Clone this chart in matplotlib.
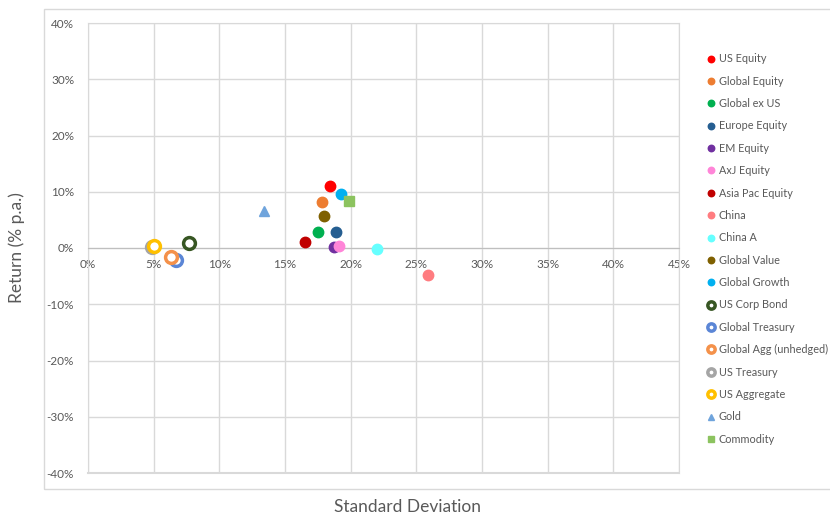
import matplotlib.pyplot as plt
from matplotlib.patches import Rectangle
from matplotlib.ticker import FuncFormatter, MultipleLocator

names = ["US Equity", "Global Equity", "Global ex US", "Europe Equity", "EM Equity",
         "AxJ Equity", "Asia Pac Equity", "China", "China A", "Global Value",
         "Global Growth", "US Corp Bond", "Global Treasury", "Global Agg (unhedged)",
         "US Treasury", "US Aggregate", "Gold", "Commodity"]
std_dev = [18.4, 17.8, 17.5, 18.9, 18.7, 19.1, 16.5, 25.9, 22.0, 18.0,
           19.3, 7.7, 6.7, 6.3, 4.9, 5.0, 13.4, 19.9]
ret = [11.0, 8.2, 2.8, 2.8, 0.1, 0.4, 1.1, -4.8, -0.2, 5.7,
       9.6, 0.9, -2.2, -1.6, 0.2, 0.3, 6.5, 8.3]
colors = ["#FF0000", "#ED7D31", "#00B050", "#255E91", "#7030A0",
          "#FF85D8", "#C00000", "#FF7C80", "#66FFFF", "#7F6000",
          "#00B0F0", "#375623", "#5B86D6", "#F4914A",
          "#A5A5A5", "#FFC000", "#6FA4DC", "#8CC35F"]
styles = ["dot"] * 11 + ["ring"] * 5 + ["tri", "sq"]

txt = "#595959"
grid = "#D9D9D9"
plt.rcParams['font.family'] = ['Lato', 'DejaVu Sans']

fig = plt.figure(figsize=(8.3, 5.16), dpi=100)
fig.patches.append(Rectangle((44/830, 1-489/516), 1, (489-9)/516, transform=fig.transFigure,
                             fill=False, edgecolor=grid, lw=1))
ax = fig.add_axes([88/830, 1-473/516, (679-88)/830, (473-23)/516])

for n, x, y, c, s in zip(names, std_dev, ret, colors, styles):
    if s == "dot":
        ax.plot(x, y, 'o', ms=7.5, color=c, mec=c, label=n, zorder=3)
    elif s == "ring":
        ax.plot(x, y, 'o', ms=8.5, mfc='white', mec=c, mew=2.5, label=n, zorder=3)
    elif s == "tri":
        ax.plot(x, y, '^', ms=6.5, color=c, label=n, zorder=3)
    else:
        ax.plot(x, y, 's', ms=6.5, color=c, label=n, zorder=3)

ax.set_xlim(0, 45)
ax.set_ylim(-40, 40)
ax.xaxis.set_major_locator(MultipleLocator(5))
ax.yaxis.set_major_locator(MultipleLocator(10))
pct = FuncFormatter(lambda v, p: f"{v:.0f}%")
ax.xaxis.set_major_formatter(pct)
ax.yaxis.set_major_formatter(pct)
ax.grid(True, color=grid, lw=1)
ax.set_axisbelow(True)
for sp in ax.spines.values():
    sp.set_color(grid)
ax.axhline(-40, color=grid, lw=1.5, clip_on=False)
ax.spines['bottom'].set_position(('data', 0))
ax.spines['bottom'].set_color("#BFBFBF")
ax.tick_params(length=0, labelsize=8.5, labelcolor=txt)
ax.tick_params(axis='x', pad=8)
ax.tick_params(axis='y', pad=10)

fig.text(17/830, 1-248/516, "Return (% p.a.)", rotation=90, ha='center', va='center',
         fontsize=12.5, color=txt)
fig.text(407/830, 1-507/516, "Standard Deviation", ha='center', va='center',
         fontsize=12.5, color=txt)

leg = fig.legend(loc='upper left', bbox_to_anchor=(703/830, 1-49/516), frameon=False,
                 fontsize=7.8, labelcolor=txt, markerscale=0.62, handlelength=0.6,
                 handletextpad=0.45, labelspacing=1.05, borderaxespad=0)

fig.savefig("out.png", dpi=100)
